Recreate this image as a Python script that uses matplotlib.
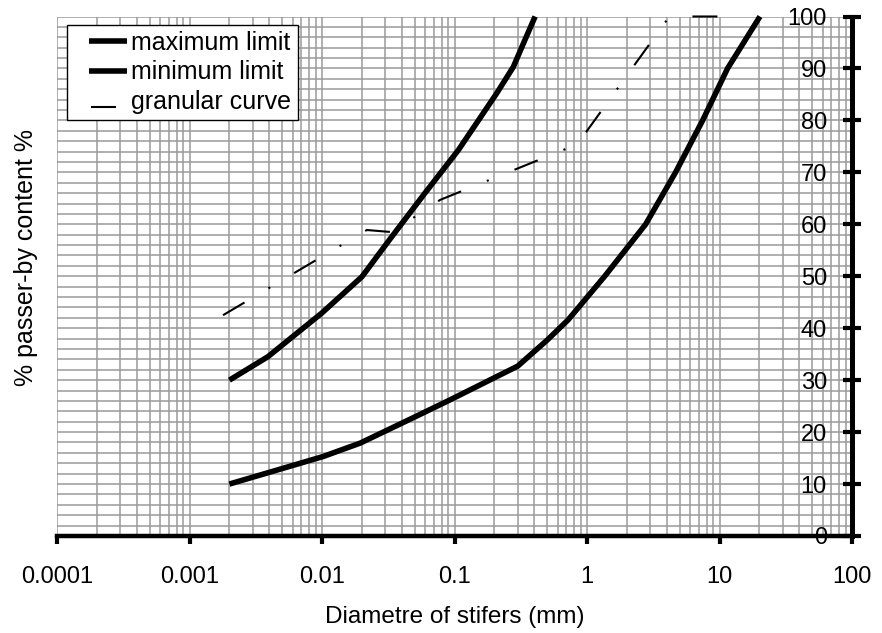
import matplotlib
matplotlib.use("Agg")
import matplotlib.pyplot as plt
from matplotlib.ticker import FixedLocator, MultipleLocator, NullFormatter
from matplotlib.legend_handler import HandlerLine2D
from matplotlib.lines import Line2D

plt.rcParams['font.family'] = ['Liberation Sans', 'DejaVu Sans']
plt.rcParams['lines.scale_dashes'] = False

# ---- data ----
x_ticks = [1e-4, 1e-3, 1e-2, 1e-1, 1, 10, 100]
x_tick_labels = ['0.0001', '0.001', '0.01', '0.1', '1', '10', '100']
y_ticks = [0, 10, 20, 30, 40, 50, 60, 70, 80, 90, 100]
y_tick_labels = ['0', '10', '20', '30', '40', '50', '60', '70', '80', '90', '100']

max_x = [0.002, 0.0039, 0.00995, 0.02, 0.0336, 0.0598, 0.107, 0.208, 0.278, 0.331, 0.406]
max_y = [30.0, 34.5, 42.9, 49.9, 57.6, 66.0, 74.3, 85.2, 90.3, 94.8, 100]

min_x = [0.002, 0.0102, 0.0195, 0.05, 0.0925, 0.3, 0.5, 0.72, 1.36, 2.77, 4.66, 7.46, 11.5, 20.2]
min_y = [10, 15.3, 17.9, 22.9, 26.2, 32.7, 37.7, 41.6, 50, 60, 70, 80, 90, 100]

gran_x = [0.00179, 0.0218, 0.0337, 0.0779, 0.845, 4.08, 4.3, 10.4]
gran_y = [42.5, 58.9, 58.5, 64.7, 75.4, 99.6, 100, 100]

labels = ['maximum limit', 'minimum limit', 'granular curve']


class PadHandler(HandlerLine2D):
    """Line handler with extra blank space on the left (and optional vertical shift)."""
    def __init__(self, lpad=0.0, yshift=0.0, **kw):
        super().__init__(**kw)
        self.lpad = lpad
        self.yshift = yshift

    def create_artists(self, legend, orig_handle, xdescent, ydescent, width,
                       height, fontsize, trans):
        p = self.lpad * fontsize
        d = self.yshift * fontsize
        return super().create_artists(legend, orig_handle, xdescent - p,
                                      ydescent + d, width - p, height,
                                      fontsize, trans)


# ---- figure ----
fig = plt.figure(figsize=(8.82, 6.33), dpi=100)
ax = fig.add_axes([57/882, 1-536/633, 795/882, 519.5/633])

ax.set_xscale('log')
ax.set_xlim(x_ticks[0], x_ticks[-1])
ax.set_ylim(y_ticks[0], y_ticks[-1])

l1, = ax.plot(max_x, max_y, color='black', lw=4, solid_capstyle='butt', clip_on=False,
              label=labels[0], zorder=4)
l2, = ax.plot(min_x, min_y, color='black', lw=4, solid_capstyle='butt', clip_on=False,
              label=labels[1], zorder=4)
l3, = ax.plot(gran_x, gran_y, color='black', lw=1.5, linestyle=(0, (18, 20, 1.5, 20)),
              dash_capstyle='butt', clip_on=False, label=labels[2], zorder=4)

# ticks
ax.xaxis.set_major_locator(FixedLocator(x_ticks))
ax.set_xticklabels(x_tick_labels)
ax.xaxis.set_minor_formatter(NullFormatter())
ax.tick_params(axis='x', which='major', direction='out', length=6, width=3,
               color='black', pad=15.5, labelsize=17)
ax.tick_params(axis='x', which='minor', length=0)

ax.yaxis.set_major_locator(FixedLocator(y_ticks))
ax.yaxis.set_minor_locator(MultipleLocator(2))
ax.yaxis.tick_right()
ax.set_yticklabels(y_tick_labels)
ax.tick_params(axis='y', which='major', direction='inout', length=13, width=3,
               color='black', pad=-24.5, labelsize=17, left=False, labelleft=False,
               right=True, labelright=True)
ax.tick_params(axis='y', which='minor', length=0, left=False, right=False)
for t in ax.get_yticklabels():
    t.set_horizontalalignment('right')

# grid
ax.grid(True, which='both', axis='both', color='#9a9a9a', lw=1.1)
ax.set_axisbelow(True)

# spines
ax.spines['top'].set_visible(False)
ax.spines['left'].set_visible(False)
ax.spines['bottom'].set_linewidth(3.2)
ax.spines['right'].set_linewidth(3.6)

ax.set_xlabel('Diametre of stifers (mm)', fontsize=17.5, labelpad=13)
ax.set_ylabel('% passer-by content %', fontsize=18)
ax.yaxis.set_label_coords(-0.0239, 0.536)

leg = ax.legend(handles=[l1, l2, l3], loc='upper left',
                bbox_to_anchor=(10/795, 1-8.0/519.5), borderaxespad=0,
                fontsize=18, frameon=True, fancybox=False, edgecolor='black',
                framealpha=1, borderpad=0.26, handlelength=2.14, handletextpad=0.16,
                labelspacing=0.21,
                handler_map={l1: PadHandler(0.62), l2: PadHandler(0.62),
                             l3: PadHandler(0.68, yshift=0.6)})
leg.get_frame().set_linewidth(1.0)
leg.set_zorder(5)

fig.savefig('out.png', dpi=100)
